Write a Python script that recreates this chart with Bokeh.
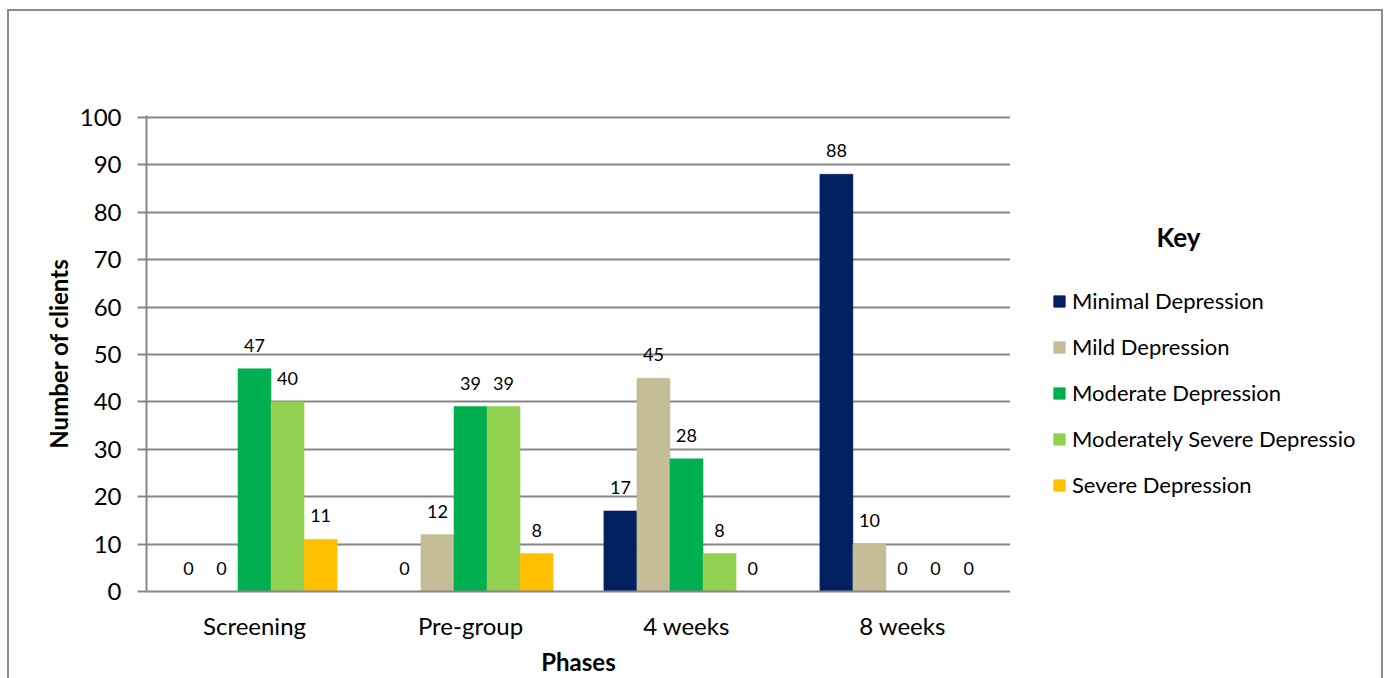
from bokeh.plotting import figure
from bokeh.layouts import row
from bokeh.models import (ColumnDataSource, FactorRange, Legend, LegendItem, Label,
                          FixedTicker, Range1d)
from bokeh.transform import dodge
from bokeh.core.properties import value
from bokeh.embed import file_html
from bokeh.resources import INLINE

phases = ["Screening", "Pre-group", "4 weeks", "8 weeks"]
series_names = ["Minimal Depression", "Mild Depression", "Moderate Depression",
                "Moderately Severe Depressio", "Severe Depression"]
minimal = [0, 0, 17, 88]
mild = [0, 12, 45, 10]
moderate = [47, 39, 28, 0]
mod_severe = [40, 39, 8, 0]
severe = [11, 8, 0, 0]
colors = ["#002060", "#C4BD97", "#00B050", "#92D050", "#FFC000"]
y_ticks = [0, 10, 20, 30, 40, 50, 60, 70, 80, 90, 100]

FONT = "Lato"
GRID = "#868686"
series = [minimal, mild, moderate, mod_severe, severe]

# ---------------- main chart ----------------
p = figure(x_range=FactorRange(*phases, range_padding=0), y_range=Range1d(0, 100.4),
           width=1001, height=667, output_backend="svg", toolbar_location=None,
           min_border_left=137, min_border_right=0, min_border_top=104,
           min_border_bottom=87)
p.outline_line_color = None
p.background_fill_color = "white"
p.border_fill_color = "white"

bw = 0.153
for i, (name, vals, col) in enumerate(zip(series_names, series, colors)):
    src = ColumnDataSource(dict(x=phases, y=vals, lab=[str(v) for v in vals]))
    off = (i - 2) * bw
    p.vbar(x=dodge("x", off, range=p.x_range), top="y", width=bw, source=src,
           fill_color=col, line_color=col, line_width=0.5)
    p.text(x=dodge("x", off, range=p.x_range), y="y", text="lab", source=src,
           text_align="center", text_baseline="bottom", y_offset=-17,
           text_font=value(FONT), text_font_size="18px", text_color="#000000")

p.yaxis.ticker = FixedTicker(ticks=y_ticks)
p.yaxis.major_label_text_font = FONT
p.yaxis.major_label_text_font_size = "24px"
p.yaxis.major_label_text_color = "#000000"
p.yaxis.major_tick_out = 9
p.yaxis.major_tick_in = 0
p.yaxis.minor_tick_line_color = None
p.yaxis.axis_line_color = GRID
p.yaxis.axis_line_width = 2
p.yaxis.major_tick_line_color = GRID
p.yaxis.major_tick_line_width = 2
p.yaxis.major_label_standoff = 16
p.yaxis.axis_label = "Number of clients"
p.yaxis.axis_label_text_font = FONT
p.yaxis.axis_label_text_font_style = "bold"
p.yaxis.axis_label_text_font_size = "24px"
p.yaxis.axis_label_text_color = "#000000"
p.yaxis.axis_label_standoff = 4

p.xaxis.major_label_text_font = FONT
p.xaxis.major_label_text_font_size = "24px"
p.xaxis.major_label_text_color = "#000000"
p.xaxis.major_tick_line_color = None
p.xaxis.axis_line_color = GRID
p.xaxis.axis_line_width = 2
p.xaxis.major_label_standoff = 13
p.xaxis.axis_label = "Phases"
p.xaxis.axis_label_text_font = FONT
p.xaxis.axis_label_text_font_style = "bold"
p.xaxis.axis_label_text_font_size = "24px"
p.xaxis.axis_label_text_color = "#000000"
p.xaxis.axis_label_standoff = 4

p.xgrid.grid_line_color = None
p.ygrid.grid_line_color = GRID
p.ygrid.grid_line_width = 2

# ---------------- key panel (frame aligned with the chart frame) ----------------
k = figure(x_range=Range1d(1010, 1381), y_range=Range1d(591, 115), width=371, height=667,
           output_backend="svg", toolbar_location=None,
           x_axis_location=None, y_axis_location=None,
           min_border_left=0, min_border_right=0, min_border_top=0, min_border_bottom=0)
k.outline_line_color = None
k.grid.grid_line_color = None
k.background_fill_color = "white"
k.border_fill_color = "white"

items = []
for name, col in zip(series_names, colors):
    # placeholder renderer outside the visible range, only used for the legend swatch
    r = k.vbar(x=[0], top=[0], width=1, fill_color=col, line_color=col)
    items.append(LegendItem(label=name, renderers=[r]))

legend = Legend(items=items, location=(42, 93), glyph_width=14, glyph_height=14,
                label_text_font=FONT, label_text_font_size="22px",
                label_text_color="#000000", label_height=22, spacing=19,
                label_standoff=6, padding=0, margin=0,
                border_line_color=None, background_fill_alpha=0)
k.add_layout(legend, "center")

k.add_layout(Label(x=1178, y=236, text="Key", text_font=FONT, text_font_style="bold",
                   text_font_size="26px", text_align="center", text_baseline="middle",
                   text_color="#000000"))

layout = row(p, k, styles={"border": "2px solid #8c8c8c", "border-bottom": "0px",
                            "margin-left": "7px", "margin-top": "9px"})

open("out.html", "w").write(file_html(layout, INLINE))
